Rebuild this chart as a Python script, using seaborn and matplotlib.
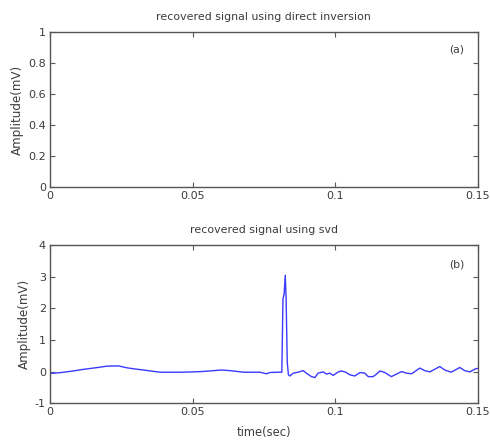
import matplotlib
matplotlib.use("Agg")
import matplotlib.pyplot as plt
import seaborn as sns
import pandas as pd

# Recovered signal (svd): time in seconds, amplitude in mV
time_sec = [0.0000, 0.0040, 0.0082, 0.0117, 0.0160, 0.0199, 0.0240, 0.0269,
            0.0300, 0.0327, 0.0360, 0.0386, 0.0421, 0.0460, 0.0502, 0.0530,
            0.0561, 0.0602, 0.0631, 0.0678, 0.0736, 0.0759, 0.0771, 0.0800,
            0.0813, 0.0817, 0.0821, 0.0825, 0.0828, 0.0832, 0.0836, 0.0841,
            0.0853, 0.0870, 0.0888, 0.0899, 0.0917, 0.0929, 0.0940, 0.0958,
            0.0970, 0.0981, 0.0993, 0.1011, 0.1022, 0.1037, 0.1051, 0.1069,
            0.1087, 0.1104, 0.1116, 0.1133, 0.1145, 0.1157, 0.1174, 0.1197,
            0.1215, 0.1233, 0.1250, 0.1268, 0.1297, 0.1314, 0.1332, 0.1367,
            0.1384, 0.1407, 0.1437, 0.1454, 0.1472, 0.1493, 0.1500]
amplitude_mv = [-0.06, -0.03, 0.02, 0.07, 0.12, 0.17, 0.18, 0.12,
                0.08, 0.05, 0.01, -0.02, -0.02, -0.02, -0.01, 0.00,
                0.02, 0.05, 0.03, -0.02, -0.02, -0.07, -0.03, -0.02,
                -0.02, 2.30, 2.45, 3.05, 2.30, 0.30, -0.10, -0.14,
                -0.05, -0.02, 0.03, -0.05, -0.16, -0.19, -0.05, -0.01,
                -0.08, -0.05, -0.12, -0.01, 0.02, -0.02, -0.10, -0.14,
                -0.03, -0.05, -0.16, -0.16, -0.08, 0.02, -0.03, -0.16,
                -0.08, 0.00, -0.05, -0.07, 0.11, 0.03, -0.01, 0.16,
                0.05, -0.02, 0.13, 0.03, -0.01, 0.09, 0.10]

x_ticks = [0, 0.05, 0.1, 0.15]
x_tick_labels = ["0", "0.05", "0.1", "0.15"]
top_y_ticks = [0, 0.2, 0.4, 0.6, 0.8, 1]
top_y_labels = ["0", "0.2", "0.4", "0.6", "0.8", "1"]
bottom_y_ticks = [-1, 0, 1, 2, 3, 4]
bottom_y_labels = ["-1", "0", "1", "2", "3", "4"]

sns.set_style("ticks")
plt.rcParams["font.family"] = ["DejaVu Sans"]
text_color = "#3c3c3c"
plt.rcParams.update({
    "text.color": text_color,
    "axes.labelcolor": text_color,
    "xtick.color": "#5a5a5a",
    "ytick.color": "#5a5a5a",
    "xtick.labelcolor": text_color,
    "ytick.labelcolor": text_color,
    "axes.edgecolor": "#555555",
    "axes.linewidth": 1.0,
})

fig = plt.figure(figsize=(4.9, 4.45), dpi=100)
ax_a = fig.add_axes([0.102, 0.580, 0.873, 0.348])
ax_b = fig.add_axes([0.102, 0.094, 0.873, 0.355])


def style_axes(ax, yticks, ylabels, ylim):
    ax.set_xlim(0, 0.15)
    ax.set_ylim(*ylim)
    ax.set_xticks(x_ticks)
    ax.set_xticklabels(x_tick_labels)
    ax.set_yticks(yticks)
    ax.set_yticklabels(ylabels)
    ax.tick_params(direction="in", length=3.5, width=0.8, labelsize=8,
                   top=True, right=True, pad=3)
    for s in ax.spines.values():
        s.set_visible(True)
    ax.set_ylabel("Amplitude(mV)", fontsize=8.6, labelpad=3)


# (a) direct inversion: no usable signal
style_axes(ax_a, top_y_ticks, top_y_labels, (0, 1))
ax_a.set_title("recovered signal using direct inversion", fontsize=7.9, pad=9)
ax_a.text(0.951, 0.89, "(a)", transform=ax_a.transAxes, fontsize=7.8,
          ha="center", va="center")

# (b) svd reconstruction
df = pd.DataFrame({"time": time_sec, "amp": amplitude_mv})
sns.lineplot(data=df, x="time", y="amp", ax=ax_b, color="#3a3aff",
             linewidth=1.0)
style_axes(ax_b, bottom_y_ticks, bottom_y_labels, (-1, 4))
ax_b.set_title("recovered signal using svd", fontsize=7.9, pad=9)
ax_b.set_xlabel("time(sec)", fontsize=8.3, labelpad=6)
ax_b.text(0.951, 0.88, "(b)", transform=ax_b.transAxes, fontsize=7.8,
          ha="center", va="center")

fig.savefig("out.png", dpi=100)
